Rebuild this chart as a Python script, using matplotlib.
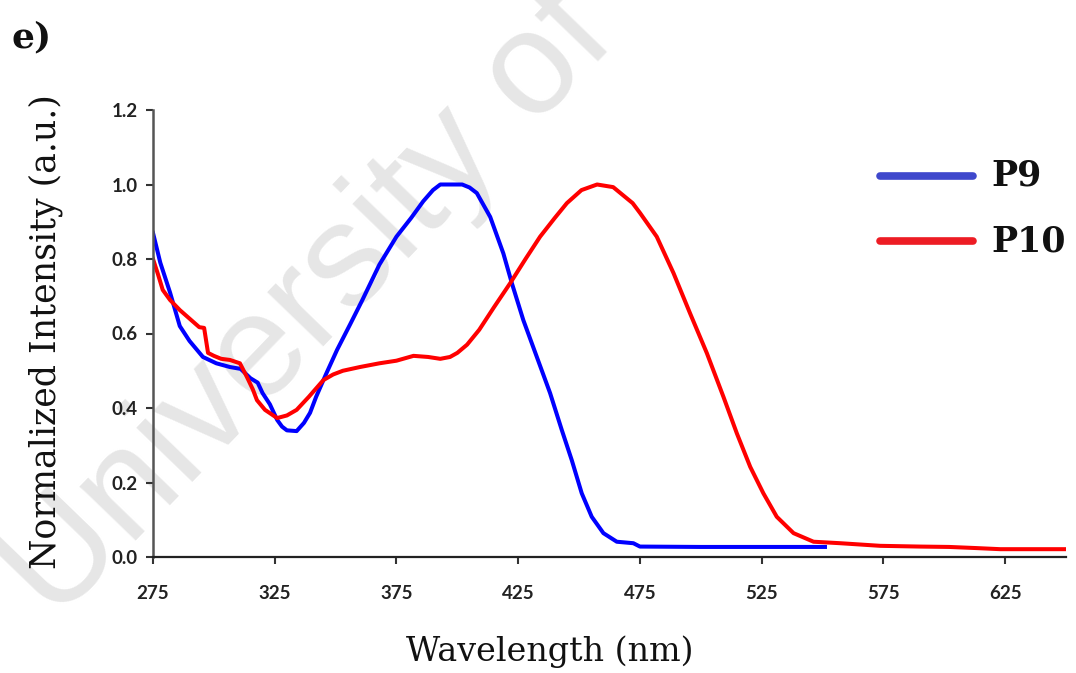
import matplotlib
matplotlib.use("Agg")
import matplotlib.pyplot as plt
from matplotlib.lines import Line2D

# Normalized absorption spectra (wavelength in nm, intensity in a.u.)
p9_wavelength = [275, 278, 282, 286, 290, 295.5, 301, 306.6, 311, 315, 318, 320, 323,
                 326, 328, 330, 334, 337, 339.5, 342, 346, 350.6, 356, 361, 368, 375,
                 381, 386, 390, 393, 398, 402, 405, 408, 413.5, 418.9, 422.4, 427.1,
                 432.6, 438.1, 442.9, 447, 451.1, 455.2, 460, 465.5, 472.3, 475,
                 500, 525, 551]
p9_intensity = [0.87, 0.79, 0.71, 0.62, 0.58, 0.537, 0.52, 0.51, 0.505, 0.48, 0.468, 0.44, 0.41,
                0.368, 0.35, 0.34, 0.338, 0.36, 0.387, 0.43, 0.49, 0.556, 0.625, 0.69, 0.785, 0.86,
                0.91, 0.955, 0.985, 1.0, 1.0, 1.0, 0.992, 0.977, 0.913, 0.815, 0.735, 0.636,
                0.538, 0.44, 0.341, 0.26, 0.171, 0.108, 0.064, 0.041, 0.037, 0.028,
                0.027, 0.027, 0.027]

p10_wavelength = [275, 277, 279, 282, 286, 290, 294, 296, 297.6, 300, 303, 306.6, 310.7,
                  313.6, 316, 317.7, 321, 326, 330, 334, 339, 345, 349, 353, 360, 368,
                  375, 382, 388, 393, 397, 400, 404, 409, 415, 421.7, 428, 434, 440,
                  445, 451, 457.4, 464, 472, 475.1, 481.9, 488.8, 495.6, 502.5, 509.3,
                  514.8, 520.3, 525.7, 531.2, 538.1, 546.3, 557.3, 573.7, 590, 602, 613,
                  623, 635, 650]
p10_intensity = [0.80, 0.76, 0.717, 0.69, 0.663, 0.64, 0.617, 0.615, 0.548, 0.54, 0.532, 0.529, 0.52,
                 0.483, 0.45, 0.421, 0.395, 0.373, 0.38, 0.395, 0.43, 0.475, 0.49, 0.50, 0.51, 0.52,
                 0.527, 0.54, 0.537, 0.532, 0.537, 0.548, 0.57, 0.61, 0.67, 0.735, 0.80, 0.86, 0.91,
                 0.95, 0.985, 1.0, 0.993, 0.95, 0.923, 0.86, 0.762, 0.654, 0.547, 0.43,
                 0.332, 0.242, 0.171, 0.108, 0.064, 0.041, 0.037, 0.03, 0.028, 0.027, 0.024,
                 0.021, 0.021, 0.021]

x_ticks = [275, 325, 375, 425, 475, 525, 575, 625]
y_ticks = [0.0, 0.2, 0.4, 0.6, 0.8, 1.0, 1.2]
series_names = ["P9", "P10"]

W, H = 1076, 673
fig = plt.figure(figsize=(W / 100, H / 100), dpi=100)
fig.patch.set_facecolor("white")

# faint diagonal watermark behind the plot
fig.text(0.288, 0.545, "University of", fontsize=106, family="Liberation Sans",
         color="#e6e6e6", rotation=46, ha="center", va="center",
         rotation_mode="anchor", zorder=0)

ax = fig.add_axes([153 / W, 1 - 557 / H, 913 / W, 447 / H])
ax.patch.set_alpha(0)
ax.set_zorder(1)

ax.plot(p9_wavelength, p9_intensity, color="#0000ff", lw=2.9, solid_joinstyle="round")
ax.plot(p10_wavelength, p10_intensity, color="#ff0000", lw=2.9, solid_joinstyle="round")

ax.set_xlim(275, 650)
ax.set_ylim(0, 1.2)
ax.set_xticks(x_ticks)
ax.set_yticks(y_ticks)
ax.set_yticklabels([f"{v:.1f}" for v in y_ticks])

for side in ("top", "right"):
    ax.spines[side].set_visible(False)
ax.spines["left"].set_color("#555555")
ax.spines["left"].set_linewidth(1.8)
ax.spines["bottom"].set_color("#222222")
ax.spines["bottom"].set_linewidth(1.6)
ax.tick_params(axis="both", direction="out", length=5, width=1.5, colors="#333333")
ax.tick_params(axis="x", pad=15)
ax.tick_params(axis="y", pad=6)
for lbl in ax.get_xticklabels() + ax.get_yticklabels():
    lbl.set_fontfamily("Lato")
    lbl.set_fontweight("bold")
    lbl.set_fontsize(13.5)
    lbl.set_color("#222222")

# axis titles
fig.text(550 / W, 1 - 652 / H, "Wavelength (nm)", family="DejaVu Serif", fontsize=24,
         color="#111111", ha="center", va="center")
fig.text(46 / W, 1 - 332 / H, "Normalized Intensity (a.u.)", family="DejaVu Serif",
         fontsize=25, color="#111111", ha="center", va="center", rotation=90)

# panel tag
fig.text(0.011, 1 - 37 / H, "e)", family="DejaVu Serif", fontweight="bold", fontsize=26,
         color="#111111", ha="left", va="center")

# legend entries
legend_colors = ["#3f48cc", "#ed1c24"]
legend_y = [1 - 176 / H, 1 - 241 / H]
for name, col, yy in zip(series_names, legend_colors, legend_y):
    fig.add_artist(Line2D([880 / W, 973 / W], [yy, yy], color=col, lw=5.5,
                          solid_capstyle="round", transform=fig.transFigure))
    fig.text(991 / W, yy, name, family="DejaVu Serif", fontweight="bold",
             fontsize=25, color="#111111", ha="left", va="center")

fig.savefig("out.png", dpi=100, facecolor="white")
